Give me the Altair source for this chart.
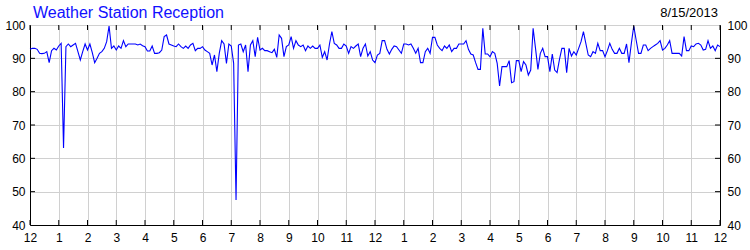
import altair as alt
import pandas as pd

title_text = "Weather Station Reception"
date_text = "8/15/2013"

# Reception (%) read every 5 minutes, one list per hour (12 readings), plus midnight at the end
h00 = [92.7, 93.0, 93.0, 92.7, 91.5, 91.4, 91.5, 92.0, 88.7, 92.3, 93.0, 92.5]
h01 = [93.7, 94.5, 63.1, 93.5, 94.3, 93.5, 94.0, 94.5, 92.0, 89.5, 92.0, 94.3]
h02 = [92.5, 94.3, 91.7, 88.7, 90.0, 91.5, 92.0, 93.0, 95.0, 99.7, 93.0, 93.7]
h03 = [92.5, 93.7, 93.0, 95.3, 93.5, 94.3, 94.3, 94.3, 94.3, 94.0, 94.3, 93.8]
h04 = [93.5, 92.2, 92.2, 93.7, 91.5, 91.5, 91.7, 92.5, 96.5, 97.0, 94.3, 94.0]
h05 = [93.7, 93.5, 94.3, 93.5, 93.0, 93.7, 93.0, 94.0, 94.5, 92.3, 93.0, 93.0]
h06 = [93.5, 92.5, 92.0, 91.5, 88.0, 91.0, 86.0, 91.5, 95.3, 94.3, 88.5, 94.3]
h07 = [93.7, 88.5, 47.5, 94.0, 94.3, 92.0, 94.0, 86.0, 94.0, 95.3, 90.5, 96.3]
h08 = [92.5, 93.0, 92.3, 92.3, 92.0, 91.7, 92.7, 90.3, 97.0, 96.0, 90.5, 93.5]
h09 = [94.0, 96.5, 93.0, 95.3, 94.0, 93.5, 94.0, 92.3, 93.7, 93.0, 93.7, 93.0]
h10 = [93.0, 94.0, 90.3, 92.0, 89.5, 94.3, 98.0, 94.5, 94.0, 93.0, 93.0, 94.3]
h11 = [93.7, 91.5, 93.5, 93.0, 93.7, 94.3, 90.5, 93.0, 94.3, 90.7, 92.0, 89.5]
h12 = [88.7, 91.0, 91.5, 95.3, 95.3, 92.7, 91.3, 92.7, 93.7, 93.5, 92.5, 91.5]
h13 = [94.3, 94.3, 94.0, 94.3, 93.0, 91.5, 93.0, 88.7, 88.7, 92.0, 93.0, 91.5]
h14 = [96.3, 96.3, 94.0, 93.0, 92.3, 93.7, 93.0, 94.0, 92.0, 93.0, 93.0, 94.3]
h15 = [94.3, 94.3, 95.3, 92.7, 91.3, 91.0, 88.7, 86.7, 86.7, 99.0, 91.3, 91.3]
h16 = [90.5, 92.0, 91.5, 88.5, 81.7, 87.5, 87.5, 87.5, 89.3, 82.7, 83.0, 89.3]
h17 = [89.3, 86.0, 89.0, 88.0, 85.0, 86.5, 99.0, 93.0, 86.7, 91.5, 93.0, 90.5]
h18 = [90.5, 86.0, 91.3, 86.5, 85.7, 89.7, 93.0, 93.0, 85.7, 93.0, 90.7, 92.0]
h19 = [91.0, 93.0, 95.0, 98.0, 94.5, 91.0, 90.5, 92.0, 91.5, 94.5, 92.3, 92.3]
h20 = [90.5, 92.3, 94.5, 92.7, 91.5, 91.5, 93.0, 91.5, 91.5, 94.3, 88.7, 94.5]
h21 = [99.7, 95.5, 91.5, 91.5, 94.0, 94.0, 92.3, 93.0, 93.5, 94.0, 94.5, 95.3]
h22 = [92.5, 93.0, 94.0, 95.3, 91.5, 91.5, 91.5, 91.5, 90.7, 96.5, 92.3, 92.3]
h23 = [93.7, 93.5, 94.3, 94.5, 94.0, 92.5, 92.7, 95.3, 93.0, 93.7, 92.3, 94.0]
h24 = [93.5]

hours_lists = [h00, h01, h02, h03, h04, h05, h06, h07, h08, h09, h10, h11,
               h12, h13, h14, h15, h16, h17, h18, h19, h20, h21, h22, h23, h24]

x_ticks = list(range(25))
y_ticks = [40, 50, 60, 70, 80, 90, 100]
y_inner_ticks = [50, 60, 70, 80, 90]

rows = []
for hi, lst in enumerate(hours_lists):
    for mi, v in enumerate(lst):
        rows.append({"hour": hi + mi * 5 / 60, "value": v})
df = pd.DataFrame(rows)
xt_df = pd.DataFrame({"h": x_ticks})
yt_df = pd.DataFrame({"v": y_inner_ticks})

FONT = "Liberation Sans"
xscale = alt.Scale(domain=[0, 24], nice=False, zero=False)
yscale = alt.Scale(domain=[40, 100], nice=False, zero=False)

x_axis = alt.Axis(values=x_ticks, labelExpr="((datum.value + 11) % 12) + 1",
                  title=None, ticks=False, labelPadding=7, labelFont=FONT,
                  labelFontSize=12, labelColor="black", domainColor="black",
                  grid=True, gridColor="#d0d0d0", labelFlush=False, labelOverlap=False)
y_left = alt.Axis(values=y_ticks, title=None, ticks=False, labelPadding=5,
                  labelFont=FONT, labelFontSize=12, labelColor="black",
                  domainColor="black", grid=True, gridColor="#d0d0d0", orient="left")
y_right = alt.Axis(values=y_ticks, title=None, ticks=False, labelPadding=7,
                   labelFont=FONT, labelFontSize=12, labelColor="black",
                   domainColor="black", grid=False, orient="right")

line = alt.Chart(df).mark_line(color="#0000ff", strokeWidth=1.1).encode(
    x=alt.X("hour:Q", scale=xscale, axis=x_axis),
    y=alt.Y("value:Q", scale=yscale, axis=y_left),
)
right = alt.Chart(df).mark_line(opacity=0).encode(
    x=alt.X("hour:Q", scale=xscale, axis=None),
    y=alt.Y("value:Q", scale=yscale, axis=y_right),
)
bottom_ticks = alt.Chart(xt_df).mark_rule(color="black", strokeWidth=1).encode(
    x=alt.X("h:Q", scale=xscale, axis=None),
    y=alt.value(200), y2=alt.value(195),
)
top_ticks = alt.Chart(xt_df).mark_rule(color="black", strokeWidth=1).encode(
    x=alt.X("h:Q", scale=xscale, axis=None),
    y=alt.value(0), y2=alt.value(5),
)
left_ticks = alt.Chart(yt_df).mark_rule(color="black", strokeWidth=1).encode(
    y=alt.Y("v:Q", scale=yscale, axis=None),
    x=alt.value(0), x2=alt.value(5),
)
right_ticks = alt.Chart(yt_df).mark_rule(color="black", strokeWidth=1).encode(
    y=alt.Y("v:Q", scale=yscale, axis=None),
    x=alt.value(690), x2=alt.value(685),
)
title_mark = alt.Chart(pd.DataFrame({"t": [title_text]})).mark_text(
    align="left", baseline="alphabetic", font=FONT, fontSize=16, color="#1010ff"
).encode(text="t:N", x=alt.value(3), y=alt.value(-7))
date_mark = alt.Chart(pd.DataFrame({"t": [date_text]})).mark_text(
    align="right", baseline="alphabetic", font=FONT, fontSize=13, color="black"
).encode(text="t:N", x=alt.value(688), y=alt.value(-8))

chart = alt.layer(
    line, right, bottom_ticks, top_ticks, left_ticks, right_ticks, title_mark, date_mark
).resolve_axis(x="independent", y="independent").properties(
    width=690, height=200,
    autosize=alt.AutoSizeParams(type="none"),
    padding={"left": 30, "top": 25, "right": 30, "bottom": 25},
    background="white",
).configure_view(stroke="black", strokeWidth=1)

chart.save("out.html", embed_options={"renderer": "svg", "actions": False})
